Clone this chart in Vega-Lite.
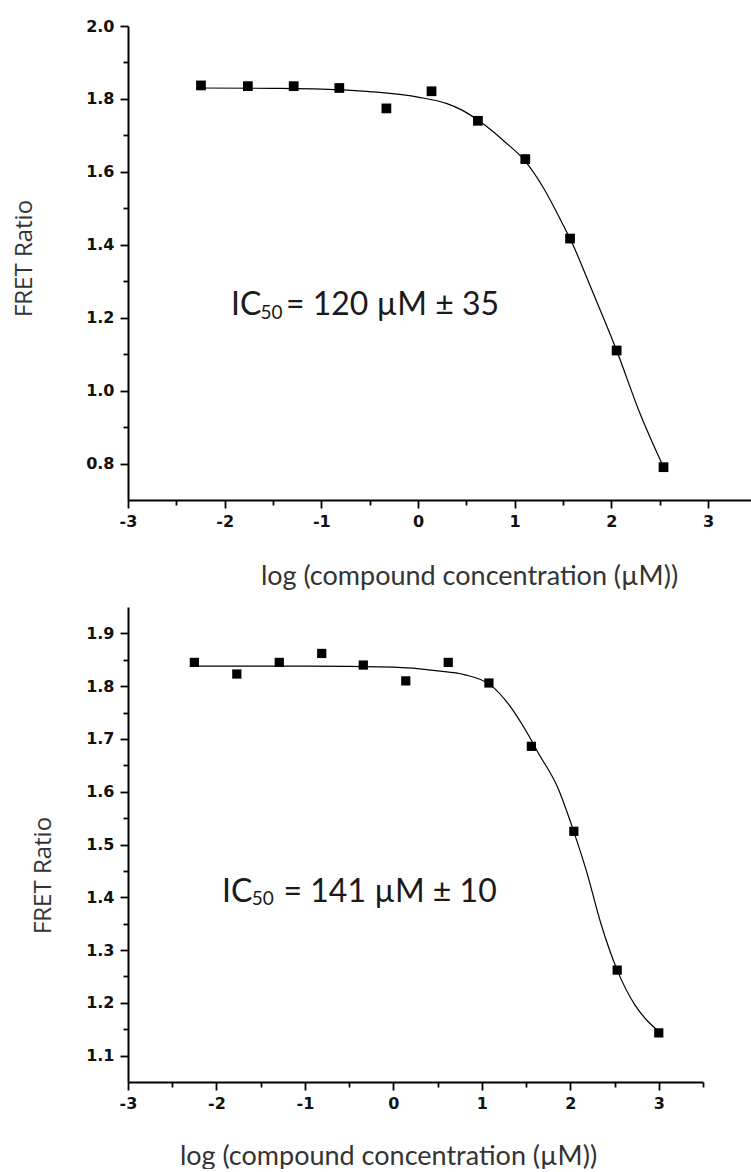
{
  "$schema": "https://vega.github.io/schema/vega-lite/v6.json",
  "padding": {"left": 12, "top": 18, "right": 0, "bottom": 0},
  "spacing": 18,
  "background": "white",
  "config": {
    "view": {"stroke": null},
    "axis": {
      "grid": false,
      "domainColor": "#000000",
      "domainWidth": 2,
      "tickColor": "#000000",
      "tickWidth": 1.8,
      "labelFont": "DejaVu Sans",
      "labelFontWeight": "bold",
      "labelFontSize": 16,
      "labelColor": "#111111",
      "labelFlush": false,
      "labelOverlap": false,
      "titleFontWeight": "normal",
      "titleColor": "#333333"
    }
  },
  "datasets": {
    "pts1": [
      {"logc": -2.245, "ratio": 1.837},
      {"logc": -1.76, "ratio": 1.835},
      {"logc": -1.286, "ratio": 1.835},
      {"logc": -0.814, "ratio": 1.830},
      {"logc": -0.327, "ratio": 1.774},
      {"logc": 0.14, "ratio": 1.821},
      {"logc": 0.62, "ratio": 1.740},
      {"logc": 1.11, "ratio": 1.635},
      {"logc": 1.573, "ratio": 1.417},
      {"logc": 2.055, "ratio": 1.110},
      {"logc": 2.54, "ratio": 0.790}
    ],
    "fit1": [
      {"logc": -2.27, "ratio": 1.830},
      {"logc": -1.5, "ratio": 1.829},
      {"logc": -1.0, "ratio": 1.827},
      {"logc": -0.5, "ratio": 1.820},
      {"logc": 0.0, "ratio": 1.805},
      {"logc": 0.3, "ratio": 1.787},
      {"logc": 0.45, "ratio": 1.770},
      {"logc": 0.62, "ratio": 1.742},
      {"logc": 0.75, "ratio": 1.716},
      {"logc": 0.9, "ratio": 1.682},
      {"logc": 1.1, "ratio": 1.632},
      {"logc": 1.3, "ratio": 1.555},
      {"logc": 1.5, "ratio": 1.455},
      {"logc": 1.573, "ratio": 1.417},
      {"logc": 1.8, "ratio": 1.275},
      {"logc": 2.055, "ratio": 1.110},
      {"logc": 2.3, "ratio": 0.935},
      {"logc": 2.54, "ratio": 0.790}
    ],
    "pts2": [
      {"logc": -2.25, "ratio": 1.845},
      {"logc": -1.77, "ratio": 1.823},
      {"logc": -1.29, "ratio": 1.845},
      {"logc": -0.81, "ratio": 1.862},
      {"logc": -0.34, "ratio": 1.840},
      {"logc": 0.14, "ratio": 1.810},
      {"logc": 0.62, "ratio": 1.845},
      {"logc": 1.08, "ratio": 1.806},
      {"logc": 1.56, "ratio": 1.686},
      {"logc": 2.04, "ratio": 1.525},
      {"logc": 2.53, "ratio": 1.262},
      {"logc": 3.0, "ratio": 1.143}
    ],
    "fit2": [
      {"logc": -2.25, "ratio": 1.838},
      {"logc": -1.0, "ratio": 1.838},
      {"logc": 0.0, "ratio": 1.836},
      {"logc": 0.5, "ratio": 1.829},
      {"logc": 0.8, "ratio": 1.822},
      {"logc": 1.1, "ratio": 1.802},
      {"logc": 1.31, "ratio": 1.764},
      {"logc": 1.5, "ratio": 1.715},
      {"logc": 1.64, "ratio": 1.673},
      {"logc": 1.86, "ratio": 1.607},
      {"logc": 2.04, "ratio": 1.524},
      {"logc": 2.18, "ratio": 1.451},
      {"logc": 2.35, "ratio": 1.348},
      {"logc": 2.53, "ratio": 1.262},
      {"logc": 2.73, "ratio": 1.196},
      {"logc": 2.87, "ratio": 1.166},
      {"logc": 3.0, "ratio": 1.146}
    ],
    "ann1": [
      {"logc": -1.934, "ratio": 1.2074, "part": "main", "label": "IC"},
      {"logc": -1.63, "ratio": 1.197, "part": "sub", "label": "50"},
      {"logc": -1.366, "ratio": 1.2074, "part": "main", "label": "= 120 µM ± 35"}
    ],
    "ann2": [
      {"logc": -1.938, "ratio": 1.392, "part": "main", "label": "IC"},
      {"logc": -1.60, "ratio": 1.386, "part": "sub", "label": "50"},
      {"logc": -1.242, "ratio": 1.392, "part": "main", "label": "= 141 µM ± 10"}
    ]
  },
  "vconcat": [
    {
      "width": 623,
      "height": 474,
      "encoding": {
        "x": {
          "field": "logc", "type": "quantitative",
          "scale": {"domain": [-3, 3.445], "nice": false, "zero": false},
          "axis": {
            "values": [-3, -2.5, -2, -1.5, -1, -0.5, 0, 0.5, 1, 1.5, 2, 2.5, 3],
            "labelExpr": "abs(datum.value - round(datum.value)) < 0.01 ? '' + datum.value : ''",
            "tickSize": {"condition": {"test": "abs(datum.value - round(datum.value)) < 0.01", "value": 8}, "value": 5},
            "labelPadding": 5,
            "title": "log (compound concentration (µM))",
            "titleFont": "Lato",
            "titleFontSize": 27,
            "titleX": 341,
            "titleY": 84,
            "titleBaseline": "alphabetic"
          }
        },
        "y": {
          "field": "ratio", "type": "quantitative",
          "scale": {"domain": [0.7, 2.0], "nice": false, "zero": false},
          "axis": {
            "values": [0.8, 0.9, 1.0, 1.1, 1.2, 1.3, 1.4, 1.5, 1.6, 1.7, 1.8, 1.9, 2.0],
            "labelExpr": "abs(datum.value * 5 - round(datum.value * 5)) < 0.01 ? format(datum.value, '.1f') : ''",
            "tickSize": {"condition": {"test": "abs(datum.value * 5 - round(datum.value * 5)) < 0.01", "value": 8}, "value": 5},
            "labelPadding": 6,
            "title": "FRET Ratio",
            "titleFont": "Open Sans",
            "titleFontSize": 24,
            "titleX": -104,
            "titleY": 232,
            "titleBaseline": "middle"
          }
        }
      },
      "layer": [
        {
          "data": {"name": "fit1"},
          "mark": {"type": "line", "color": "#000000", "strokeWidth": 1.2, "interpolate": "monotone"}
        },
        {
          "data": {"name": "pts1"},
          "mark": {"type": "point", "shape": "square", "filled": true, "color": "#000000", "opacity": 1, "size": 95}
        },
        {
          "data": {"name": "ann1"},
          "transform": [{"filter": "datum.part === 'main'"}],
          "mark": {"type": "text", "font": "Lato", "fontSize": 32, "align": "left", "baseline": "alphabetic", "color": "#1a1a1a"},
          "encoding": {"text": {"field": "label"}}
        },
        {
          "data": {"name": "ann1"},
          "transform": [{"filter": "datum.part === 'sub'"}],
          "mark": {"type": "text", "font": "Lato", "fontSize": 19, "align": "left", "baseline": "alphabetic", "color": "#1a1a1a"},
          "encoding": {"text": {"field": "label"}}
        }
      ]
    },
    {
      "width": 575,
      "height": 475,
      "encoding": {
        "x": {
          "field": "logc", "type": "quantitative",
          "scale": {"domain": [-3, 3.5], "nice": false, "zero": false},
          "axis": {
            "values": [-3, -2.5, -2, -1.5, -1, -0.5, 0, 0.5, 1, 1.5, 2, 2.5, 3, 3.5],
            "labelExpr": "abs(datum.value - round(datum.value)) < 0.01 ? '' + datum.value : ''",
            "tickSize": {"condition": {"test": "abs(datum.value - round(datum.value)) < 0.01", "value": 8}, "value": 5},
            "labelPadding": 5,
            "title": "log (compound concentration (µM))",
            "titleFont": "Lato",
            "titleFontSize": 27,
            "titleX": 260,
            "titleY": 82,
            "titleBaseline": "alphabetic"
          }
        },
        "y": {
          "field": "ratio", "type": "quantitative",
          "scale": {"domain": [1.05, 1.95], "nice": false, "zero": false},
          "axis": {
            "values": [1.1, 1.15, 1.2, 1.25, 1.3, 1.35, 1.4, 1.45, 1.5, 1.55, 1.6, 1.65, 1.7, 1.75, 1.8, 1.85, 1.9],
            "labelExpr": "abs(datum.value * 10 - round(datum.value * 10)) < 0.01 ? format(datum.value, '.1f') : ''",
            "tickSize": {"condition": {"test": "abs(datum.value * 10 - round(datum.value * 10)) < 0.01", "value": 8}, "value": 5},
            "labelPadding": 6,
            "title": "FRET Ratio",
            "titleFont": "Open Sans",
            "titleFontSize": 24,
            "titleX": -85,
            "titleY": 268,
            "titleBaseline": "middle"
          }
        }
      },
      "layer": [
        {
          "data": {"name": "fit2"},
          "mark": {"type": "line", "color": "#000000", "strokeWidth": 1.2, "interpolate": "monotone"}
        },
        {
          "data": {"name": "pts2"},
          "mark": {"type": "point", "shape": "square", "filled": true, "color": "#000000", "opacity": 1, "size": 85}
        },
        {
          "data": {"name": "ann2"},
          "transform": [{"filter": "datum.part === 'main'"}],
          "mark": {"type": "text", "font": "Lato", "fontSize": 32, "align": "left", "baseline": "alphabetic", "color": "#1a1a1a"},
          "encoding": {"text": {"field": "label"}}
        },
        {
          "data": {"name": "ann2"},
          "transform": [{"filter": "datum.part === 'sub'"}],
          "mark": {"type": "text", "font": "Lato", "fontSize": 19, "align": "left", "baseline": "alphabetic", "color": "#1a1a1a"},
          "encoding": {"text": {"field": "label"}}
        }
      ]
    }
  ]
}
